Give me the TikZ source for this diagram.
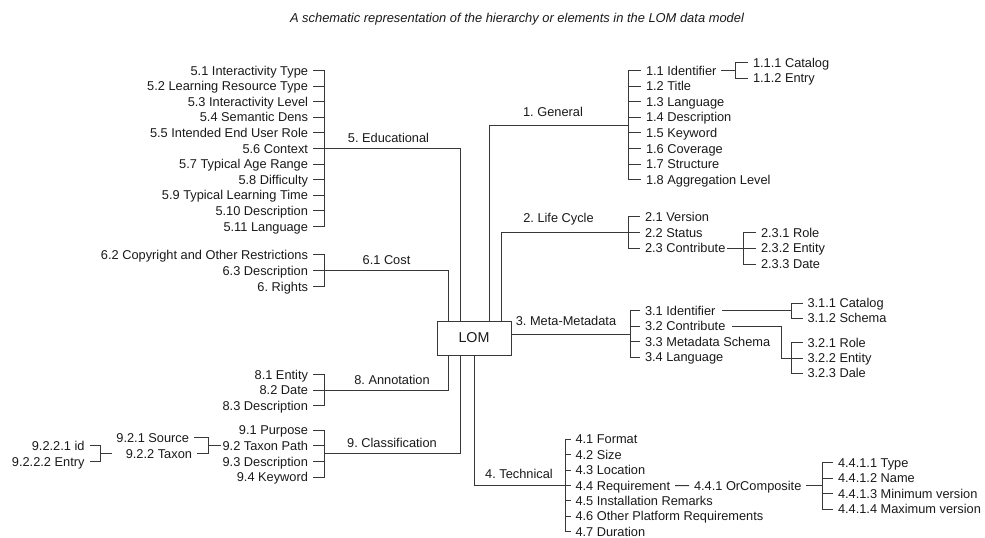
\documentclass[tikz,border=0pt]{standalone}
\usepackage{fontspec}
\setmainfont{Liberation Sans}
\definecolor{ink}{HTML}{1A1A1A}
\definecolor{wirecol}{HTML}{383838}
\newcommand\itemfont{\fontsize{12.8pt}{15pt}\selectfont}
\newcommand\rootfont{\fontsize{14.3pt}{17pt}\selectfont}
\newcommand\titlefont{\fontsize{12.9pt}{15pt}\selectfont\itshape}
\tikzset{
  base/.style={font=\itemfont, text=ink, inner sep=0pt, text height=9.2pt, text depth=0pt},
  rt/.style={base, anchor=west, outer xsep=5pt, outer ysep=0pt},
  lf/.style={base, anchor=east, outer xsep=5pt, outer ysep=0pt},
  tag/.style={base},
  wire/.style={draw=wirecol, line width=1pt, line join=miter, line cap=butt},
  root/.style={draw=wirecol, line width=1pt, minimum width=74pt, minimum height=34pt,
               inner sep=0pt, font=\rootfont, text=ink},
}
\begin{document}
\frenchspacing
\begin{tikzpicture}[x=1pt,y=-1pt]
\fill[white] (0,0) rectangle (985,538);
\useasboundingbox (0,0) rectangle (985,538);

% title
\node[font=\titlefont, text=ink, inner sep=0pt] (title) at (517,19)
  {A schematic representation of the hierarchy or elements in the LOM data model};

% root
\node[root] (lom) at (474,338) {LOM};

% branch positions on the root box and bracket junctions
\coordinate (x1) at (489,0);
\coordinate (x2) at (501.5,0);
\coordinate (x5) at (460.7,0);
\coordinate (x6) at (448,0);
\coordinate (bx1) at (628,125.0);
\coordinate (bx2) at (628,0);
\coordinate (bx3) at (630,334);
\coordinate (bx4) at (565,485.5);
\coordinate (bx5) at (324,0);
\coordinate (bx6) at (324,0);
\coordinate (bx8) at (324,0);
\coordinate (bx9) at (324,453.6);

% ---------- 1. General ----------
\foreach \i/\t in {1/Identifier,2/Title,3/Language,4/Description,5/Keyword,6/Coverage,7/Structure,8/Aggregation Level}
  \node[rt] (g1\i) at (641,{70.4+15.6*(\i-1)}) {1.\i\ \t};
\draw[wire] (g11.west) -- (g11.west -| bx1) -- (g18.west -| bx1) -- (g18.west);
\foreach \i in {2,...,7} \draw[wire] (g1\i.west -| bx1) -- (g1\i.west);
\draw[wire] (lom.north -| x1) |- (bx1);
\node[tag] (l1) at (553,112) {1. General};

\node[rt] (c111) at (748,62.6) {1.1.1 Catalog};
\node[rt] (c112) at (748,78.2) {1.1.2 Entry};
\coordinate (bx11) at (735,70.4);
\draw[wire] (g11.east) -- (g11.east -| bx11);
\draw[wire] (c111.west) -- (c111.west -| bx11) -- (c112.west -| bx11) -- (c112.west);

% ---------- 2. Life Cycle ----------
\node[rt] (h21) at (640,216.7) {2.1 Version};
\node[rt] (h22) at (640,232.5) {2.2 Status};
\node[rt] (h23) at (640,248.3) {2.3 Contribute};
\draw[wire] (h21.west) -- (h21.west -| bx2) -- (h23.west -| bx2) -- (h23.west);
\draw[wire] (lom.north -| x2) |- (h22.west);
\node[tag] (l2) at (558.5,218) {2. Life Cycle};

\node[rt] (h231) at (756,232.5) {2.3.1 Role};
\node[rt] (h232) at (756,248.3) {2.3.2 Entity};
\node[rt] (h233) at (756,264.1) {2.3.3 Date};
\coordinate (bx23) at (743,0);
\draw[wire] ([xshift=-3pt]h23.east) -- (h232.west);
\draw[wire] (h231.west) -- (h231.west -| bx23) -- (h233.west -| bx23) -- (h233.west);

% ---------- 3. Meta-Metadata ----------
\node[rt] (m31) at (640,310.7) {3.1 Identifier};
\node[rt] (m32) at (640,326.2) {3.2 Contribute};
\node[rt] (m33) at (640,341.8) {3.3 Metadata Schema};
\node[rt] (m34) at (640,357.3) {3.4 Language};
\draw[wire] (m31.west) -- (m31.west -| bx3) -- (m34.west -| bx3) -- (m34.west);
\foreach \n in {m32,m33} \draw[wire] (\n.west -| bx3) -- (\n.west);
\draw[wire] (lom.east |- bx3) -- (bx3);
\node[tag] (l3) at (566,321) {3. Meta-Metadata};

\node[rt] (m311) at (802.5,303.3) {3.1.1 Catalog};
\node[rt] (m312) at (802.5,318.3) {3.1.2 Schema};
\coordinate (bx31) at (791.7,310.8);
\draw[wire] ([xshift=2pt]m31.east) -- (m31.east -| bx31);
\draw[wire] (m311.west) -- (m311.west -| bx31) -- (m312.west -| bx31) -- (m312.west);

\node[rt] (m321) at (802.5,342.7) {3.2.1 Role};
\node[rt] (m322) at (802.5,358) {3.2.2 Entity};
\node[rt] (m323) at (802.5,373.3) {3.2.3 Dale};
\coordinate (bx32) at (791.7,0);
\coordinate (k32) at (781.7,0);
\draw[wire] ([xshift=2pt]m32.east) -| (k32 |- m322.west) -- (m322.west);
\draw[wire] (m321.west) -- (m321.west -| bx32) -- (m323.west -| bx32) -- (m323.west);

% ---------- 4. Technical ----------
\foreach \i/\t in {1/Format,2/Size,3/Location,4/Requirement,5/Installation Remarks,6/Other Platform Requirements,7/Duration}
  \node[rt] (t4\i) at (570.5,{439.3+15.4*(\i-1)}) {4.\i\ \t};
\draw[wire] (t41.west) -- (t41.west -| bx4) -- (t47.west -| bx4) -- (t47.west);
\foreach \i in {2,...,6} \draw[wire] (t4\i.west -| bx4) -- (t4\i.west);
\draw[wire] (lom.south) |- (bx4);
\node[tag] (l4) at (519,473.5) {4. Technical};

\node[rt] (t441) at (689,485.5) {4.4.1 OrComposite};
\draw[wire] (t44.east) -- (t441.west);
\node[rt] (u1) at (833,462.5) {4.4.1.1 Type};
\node[rt] (u2) at (833,478) {4.4.1.2 Name};
\node[rt] (u3) at (833,493.5) {4.4.1.3 Minimum version};
\node[rt] (u4) at (833,509) {4.4.1.4 Maximum version};
\coordinate (bx441) at (822.7,485.5);
\draw[wire] (t441.east) -- (bx441);
\draw[wire] (u1.west) -- (u1.west -| bx441) -- (u4.west -| bx441) -- (u4.west);
\foreach \n in {u2,u3} \draw[wire] (\n.west -| bx441) -- (\n.west);

% ---------- 5. Educational ----------
\foreach \i/\t in {1/Interactivity Type,2/Learning Resource Type,3/Interactivity Level,4/Semantic Dens,5/Intended End User Role,6/Context,7/Typical Age Range,8/Difficulty,9/Typical Learning Time,10/Description,11/Language}
  \node[lf] (e\i) at (313,{70.4+15.6*(\i-1)}) {5.\i\ \t};
\draw[wire] (e1.east) -- (e1.east -| bx5) -- (e11.east -| bx5) -- (e11.east);
\foreach \i in {2,3,4,5,7,8,9,10} \draw[wire] (e\i.east) -- (e\i.east -| bx5);
\draw[wire] (lom.north -| x5) |- (e6.east);
\node[tag] (l5) at (388.5,138) {5. Educational};

% ---------- 6. Rights ----------
\node[lf] (r62) at (313,254.5) {6.2 Copyright and Other Restrictions};
\node[lf] (r63) at (313,270.6) {6.3 Description};
\node[lf] (r6) at (313,286.7) {6. Rights};
\draw[wire] (r62.east) -- (r62.east -| bx6) -- (r6.east -| bx6) -- (r6.east);
\draw[wire] (lom.north -| x6) |- (r63.east);
\node[tag] (l6) at (386.5,260) {6.1 Cost};

% ---------- 8. Annotation ----------
\node[lf] (a81) at (313,374.8) {8.1 Entity};
\node[lf] (a82) at (313,390.3) {8.2 Date};
\node[lf] (a83) at (313,405.8) {8.3 Description};
\draw[wire] (a81.east) -- (a81.east -| bx8) -- (a83.east -| bx8) -- (a83.east);
\draw[wire] (lom.south -| x6) |- (a82.east);
\node[tag] (l8) at (392,380) {8. Annotation};

% ---------- 9. Classification ----------
\node[lf] (c91) at (313,430) {9.1 Purpose};
\node[lf] (c92) at (313,445.75) {9.2 Taxon Path};
\node[lf] (c93) at (313,461.5) {9.3 Description};
\node[lf] (c94) at (313,477.25) {9.4 Keyword};
\draw[wire] (c91.east) -- (c91.east -| bx9) -- (c94.east -| bx9) -- (c94.east);
\foreach \n in {c92,c93} \draw[wire] (\n.east) -- (\n.east -| bx9);
\draw[wire] (lom.south -| x5) |- (bx9);
\node[tag] (l9) at (392,443) {9. Classification};

\node[lf] (s921) at (194,437.9) {9.2.1 Source};
\node[lf] (s922) at (197,453.6) {9.2.2 Taxon};
\coordinate (bx92) at (208,445.75);
\draw[wire] (s921.east) -- (s921.east -| bx92) -- (s922.east -| bx92) -- (s922.east);
\draw[wire] (bx92) -- ([xshift=3.5pt]c92.west);

\node[lf] (q1) at (89.5,445.75) {9.2.2.1 id};
\node[lf] (q2) at (89.5,461.5) {9.2.2.2 Entry};
\coordinate (bx922) at (100,453.6);
\coordinate (k922) at (111.7,0);
\draw[wire] (q1.east) -- (q1.east -| bx922) -- (q2.east -| bx922) -- (q2.east);
\draw[wire] (bx922) -- (s922.west -| k922);
\end{tikzpicture}
\end{document}
